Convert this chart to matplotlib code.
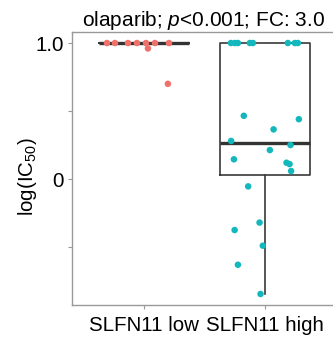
import matplotlib
matplotlib.use('Agg')
import matplotlib.pyplot as plt

plt.rcParams['font.family'] = ['Liberation Sans', 'DejaVu Sans']
plt.rcParams['mathtext.fontset'] = 'custom'
plt.rcParams['mathtext.rm'] = 'Liberation Sans'
plt.rcParams['mathtext.it'] = 'Liberation Sans:italic'

# groups and jittered points (x = group position + jitter, y = log IC50)
groups = ['SLFN11 low', 'SLFN11 high']
colors = ['#F0706A', '#12B8BC']

low_x = [0.694, 0.760, 0.868, 0.942, 1.017, 1.091, 1.207, 1.033, 1.198]
low_y = [1.0, 1.0, 1.0, 1.0, 1.0, 1.0, 1.0, 0.96, 0.70]

high_x = [1.719, 1.752, 1.777, 1.876, 1.901, 2.190, 2.248, 2.273,
          1.826, 2.281, 2.072, 1.721, 2.212, 2.041, 1.744, 2.179,
          2.204, 2.217, 1.862, 1.956, 1.750, 1.983, 1.777, 1.964]
high_y = [1.0, 1.0, 1.0, 1.0, 1.0, 1.0, 1.0, 1.0,
          0.465, 0.44, 0.365, 0.28, 0.25, 0.213, 0.145, 0.12,
          0.11, 0.059, -0.054, -0.32, -0.375, -0.49, -0.63, -0.845]

fig = plt.figure(figsize=(3.33, 3.40), dpi=100)
ax = fig.add_axes([72/333, 1 - 305/340, 263/333, 273/340])

line = dict(color='#3a3a3a', linewidth=1.2)
ax.boxplot([low_y, high_y], positions=[1, 2], widths=0.75, whis=1.5,
           showfliers=False, showcaps=False,
           boxprops=line, whiskerprops=line,
           medianprops=dict(color='#333333', linewidth=2.4))

ax.scatter(low_x, low_y, s=22, color=colors[0], edgecolors='none', zorder=3)
ax.scatter(high_x, high_y, s=22, color=colors[1], edgecolors='none', zorder=3)

ax.set_xlim(0.405, 2.58)
ax.set_ylim(-0.926, 1.081)
ax.set_xticks([1, 2])
ax.set_xticklabels(groups, fontsize=14.8)
ax.set_yticks([-0.5, 0, 0.5, 1.0])
ax.set_yticklabels(['', '0', '', '1.0'], fontsize=14.8)
ax.tick_params(color='#999999', length=3, pad=3)
ax.tick_params(axis='x', pad=5)
for s in ax.spines.values():
    s.set_color('#999999')
    s.set_linewidth(1.0)

ax.set_ylabel('log(IC$_{50}$)', fontsize=14.8)
ax.yaxis.set_label_coords(-0.125, 0.47)
ax.set_title('olaparib; $p$<0.001; FC: 3.0', fontsize=15, pad=4)

fig.savefig('out.png', dpi=100)
